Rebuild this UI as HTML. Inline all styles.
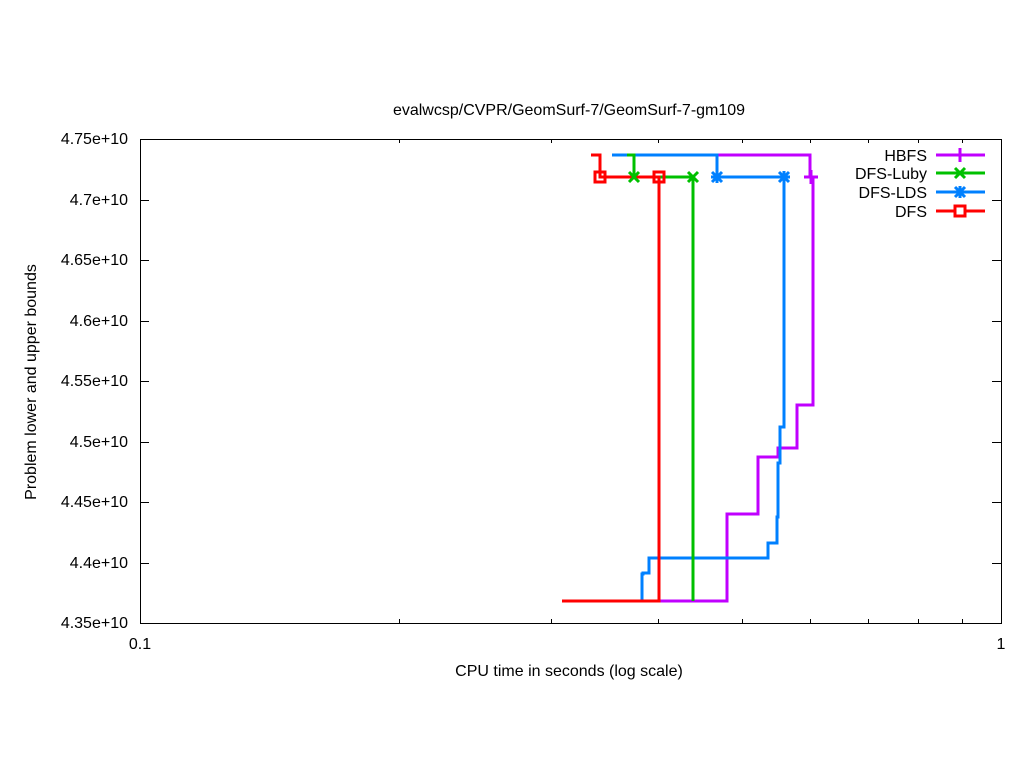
<!DOCTYPE html>
<html><head><meta charset="utf-8"><style>body{margin:0;background:#fff}svg{display:block}text{font-family:"Liberation Sans",sans-serif;font-size:16px;fill:#000}</style></head><body>
<svg width="1024" height="768" viewBox="0 0 1024 768">
<rect width="1024" height="768" fill="#fff"/>
<g stroke="#000" stroke-width="1" fill="none">
<rect x="140.5" y="139.5" width="861" height="484"/>
<path d="M140 200.5h9M1001 200.5h-9M140 260.5h9M1001 260.5h-9M140 321.5h9M1001 321.5h-9M140 381.5h9M1001 381.5h-9M140 442.5h9M1001 442.5h-9M140 502.5h9M1001 502.5h-9M140 563.5h9M1001 563.5h-9"/>
<path d="M399.5 623v-4M399.5 139v4M551.5 623v-4M551.5 139v4M658.5 623v-4M658.5 139v4M742.5 623v-4M742.5 139v4M810.5 623v-4M810.5 139v4M868.5 623v-4M868.5 139v4M918.5 623v-4M918.5 139v4M962.5 623v-4M962.5 139v4"/>
</g>
<g text-anchor="end">
<text x="128" y="144">4.75e+10</text><text x="128" y="205">4.7e+10</text><text x="128" y="265">4.65e+10</text><text x="128" y="326">4.6e+10</text><text x="128" y="386">4.55e+10</text><text x="128" y="447">4.5e+10</text><text x="128" y="507">4.45e+10</text><text x="128" y="568">4.4e+10</text><text x="128" y="628">4.35e+10</text>
</g>
<text x="140" y="649" text-anchor="middle">0.1</text>
<text x="1001" y="649" text-anchor="middle">1</text>
<text x="569" y="676" text-anchor="middle">CPU time in seconds (log scale)</text>
<text x="569" y="115" text-anchor="middle">evalwcsp/CVPR/GeomSurf-7/GeomSurf-7-gm109</text>
<text transform="translate(36,382) rotate(-90)" text-anchor="middle">Problem lower and upper bounds</text>
<g fill="none" stroke-width="3">
<path stroke="#c000ff" d="M660 601H727V514H758V457H778V448H797V405H813V177M717 155H810V177"/>
<path stroke="#0080ff" d="M612 155H717V177H784V427H780V463H778V517H777V543H768V558H649V573H643V574H642V601"/>
<path stroke="#00c000" d="M627 155H634V177H693V601"/>
<path stroke="#ff0000" d="M591 155H600V177H659V601H562"/>
</g>
<g stroke-width="3" fill="none">
<path stroke="#c000ff" d="M804 177h14M811 170v14"/>
<path stroke="#00c000" d="M629 172l10 10M639 172l-10 10M688 172l10 10M698 172l-10 10"/>
<path stroke="#0080ff" d="M712 172l10 10M722 172l-10 10M717 171v12M711 177h12M779 172l10 10M789 172l-10 10M784 171v12M778 177h12"/>
<rect stroke="#ff0000" x="595" y="172" width="10" height="10"/>
<rect stroke="#ff0000" x="654" y="172" width="10" height="10"/>
</g>
<g text-anchor="end">
<text x="927" y="161">HBFS</text><text x="927" y="179">DFS-Luby</text><text x="927" y="198">DFS-LDS</text><text x="927" y="217">DFS</text>
</g>
<g stroke-width="3" fill="none">
<path stroke="#c000ff" d="M936 155h49M960 148v14"/>
<path stroke="#00c000" d="M936 173h49M955 168l10 10M965 168l-10 10"/>
<path stroke="#0080ff" d="M936 192h49M955 187l10 10M965 187l-10 10M960 186v12M954 192h12"/>
<path stroke="#ff0000" d="M936 211h49"/><rect stroke="#ff0000" x="955" y="206" width="10" height="10" fill="#fff"/>
</g>
</svg>
</body></html>
